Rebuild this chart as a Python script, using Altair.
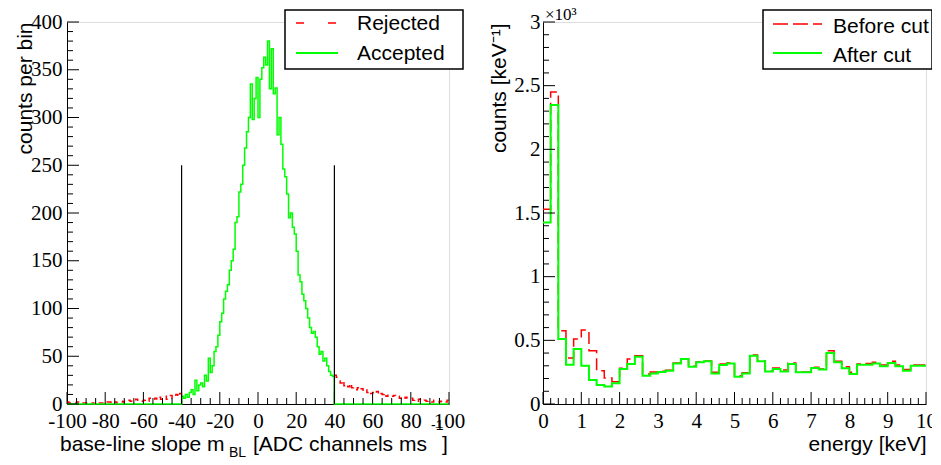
import altair as alt
import pandas as pd
import numpy as np

# ---------------- Left panel: base-line slope (1 ADC ch/ms bins) ----------------
slope_start = -100
slope_bin = 1
# Accepted, bins -40 ... 39
accepted_inner = [8, 6, 10, 7, 12, 15, 10, 25, 14, 20,
                  22, 18, 30, 24, 48, 33, 40, 55, 60, 72,
                  86, 95, 110, 118, 125, 140, 150, 162, 190, 196,
                  222, 230, 250, 268, 285, 300, 335, 298, 320, 342,
                  300, 340, 352, 363, 355, 380, 330, 372, 325, 331,
                  282, 300, 272, 246, 238, 220, 195, 200, 185, 178,
                  160, 135, 128, 115, 108, 100, 90, 80, 74, 76,
                  70, 60, 52, 55, 45, 48, 40, 34, 30, 29]
# Rejected, bins -100 ... -41
rejected_left = [2, 1, 1, 0, 1, 2, 1, 0, 1, 1,
                 1, 2, 1, 1, 0, 1, 2, 1, 1, 2,
                 1, 2, 2, 1, 3, 2, 1, 2, 3, 2,
                 3, 2, 4, 3, 2, 3, 5, 3, 4, 3,
                 4, 5, 3, 6, 4, 5, 6, 4, 7, 5,
                 6, 8, 5, 7, 9, 6, 8, 10, 7, 11]
# Rejected, bins 40 ... 99
rejected_right = [30, 28, 24, 22, 25, 19, 21, 18, 22, 17,
                  18, 15, 17, 14, 16, 13, 15, 12, 14, 11,
                  12, 10, 13, 9, 11, 10, 12, 8, 10, 9,
                  8, 9, 7, 8, 6, 7, 5, 7, 6, 5,
                  6, 4, 5, 3, 5, 4, 3, 4, 3, 4,
                  3, 2, 4, 3, 2, 3, 2, 3, 2, 4]
cut_values = [-40, 40]
cut_top = 250
left_x_ticks = [-100, -80, -60, -40, -20, 0, 20, 40, 60, 80, 100]
left_y_ticks = [0, 50, 100, 150, 200, 250, 300, 350, 400]
left_legend = ["Rejected", "Accepted"]

# ---------------- Right panel: energy spectrum (0.2 keV bins) ----------------
energy_start = 0.0
energy_bin = 0.2
before_cut = [1530, 2450, 576, 361, 510, 581, 419, 262, 204, 175,
              280, 353, 379, 236, 251, 258, 265, 322, 356, 296,
              330, 338, 250, 314, 322, 222, 245, 385, 338, 260,
              283, 268, 322, 252, 252, 288, 275, 419, 335, 293,
              250, 314, 319, 327, 306, 335, 306, 270, 306, 306]
after_cut = [1426, 2349, 510, 309, 432, 301, 188, 149, 138, 162,
             275, 314, 372, 222, 240, 251, 262, 319, 353, 293,
             327, 335, 240, 306, 319, 214, 240, 379, 335, 255,
             275, 255, 314, 250, 250, 283, 270, 400, 327, 280,
             235, 309, 309, 319, 296, 322, 296, 262, 301, 301]
right_x_ticks = [0, 1, 2, 3, 4, 5, 6, 7, 8, 9, 10]
right_y_ticks = [0, 500, 1000, 1500, 2000, 2500, 3000]
right_legend = ["Before cut", "After cut"]

RED = "#ff0000"
GREEN = "#00ff00"
SANS = "Liberation Sans"
SERIF = "Liberation Serif"

LW, LH = 382, 382
RW, RH = 383, 382


def step_df(start, width, values, group="a"):
    xs = [start + i * width for i in range(len(values) + 1)]
    ys = list(values) + [values[-1]]
    return pd.DataFrame({"x": xs, "y": ys, "g": group})


def tick_layers(xs, ys, xa, ya, x_major, x_minor, y_major, y_minor, H):
    out = []
    for vals, L in ((x_major, 12), (x_minor, 6)):
        out.append(alt.Chart(pd.DataFrame({"x": vals})).mark_rule(color="black", strokeWidth=1).encode(
            x=alt.X("x:Q", scale=xs, axis=xa), y=alt.value(H), y2=alt.value(H - L)))
    for vals, L in ((y_major, 12), (y_minor, 6)):
        out.append(alt.Chart(pd.DataFrame({"y": vals})).mark_rule(color="black", strokeWidth=1).encode(
            y=alt.Y("y:Q", scale=ys, axis=ya), x=alt.value(0), x2=alt.value(L)))
    return out


def legend_layers(names, box, red_dash, text_baselines, line_y, line_x, text_x):
    one = pd.DataFrame({"a": [0]})
    layers = [
        alt.Chart(one).mark_rect(fill="white", stroke="black", strokeWidth=1.5).encode(
            x=alt.value(box[0]), x2=alt.value(box[1]), y=alt.value(box[2]), y2=alt.value(box[3])),
        alt.Chart(one).mark_rule(color=RED, strokeWidth=1.5, strokeDash=red_dash).encode(
            x=alt.value(line_x[0]), x2=alt.value(line_x[1]), y=alt.value(line_y[0])),
        alt.Chart(one).mark_rule(color=GREEN, strokeWidth=2).encode(
            x=alt.value(line_x[0]), x2=alt.value(line_x[1]), y=alt.value(line_y[1])),
    ]
    for name, yb in zip(names, text_baselines):
        layers.append(alt.Chart(one).mark_text(text=name, font=SANS, fontSize=21, align="left",
                                               baseline="alphabetic", color="black").encode(
            x=alt.value(text_x), y=alt.value(yb)))
    return layers


one = pd.DataFrame({"a": [0]})


def txt(text, x, y, size=21, font=SANS):
    return alt.Chart(one).mark_text(text=text, font=font, fontSize=size, align="left",
                                    baseline="alphabetic", color="black").encode(
        x=alt.value(x), y=alt.value(y))


# ----- left panel -----
lxs = alt.Scale(domain=[-100, 100], nice=False, zero=False)
lys = alt.Scale(domain=[0, 400], nice=False, zero=False)

n_side = len(rejected_left)
acc_full = [0] * n_side + accepted_inner + [0] * len(rejected_right)

left_x_axis = alt.Axis(values=left_x_ticks, labelExpr="'' + datum.value", labelFont=SERIF,
                       labelFontSize=21, labelColor="black", ticks=False, grid=False, title=None,
                       labelPadding=6, labelFlush=False, labelOverlap=False, domainColor="black")
left_y_axis = alt.Axis(values=left_y_ticks, labelExpr="'' + datum.value", labelFont=SERIF,
                       labelFontSize=21, labelColor="black", ticks=False, grid=False,
                       title="counts per bin", titleFont=SANS, titleFontSize=21, titleFontWeight="normal",
                       titleColor="black", titleAngle=270, titleAlign="right", titleBaseline="alphabetic",
                       titleX=-36, titleY=0, labelPadding=5, labelFlush=False, labelOverlap=False,
                       domainColor="black")

rej_df = pd.concat([
    step_df(slope_start, slope_bin, rejected_left, "lo"),
    step_df(cut_values[1], slope_bin, rejected_right, "hi"),
])
rej_line = alt.Chart(rej_df).mark_line(
    interpolate="step-after", color=RED, strokeWidth=1.5, strokeDash=[5, 6]).encode(
    x=alt.X("x:Q", scale=lxs, axis=left_x_axis), y=alt.Y("y:Q", scale=lys, axis=left_y_axis),
    detail="g:N")
acc_line = alt.Chart(step_df(slope_start, slope_bin, acc_full)).mark_line(
    interpolate="step-after", color=GREEN, strokeWidth=1.5).encode(
    x=alt.X("x:Q", scale=lxs, axis=left_x_axis), y=alt.Y("y:Q", scale=lys, axis=left_y_axis))
cuts = alt.Chart(pd.DataFrame({"x": cut_values, "y": [0, 0], "y1": [cut_top, cut_top]})).mark_rule(
    color="black", strokeWidth=1.2).encode(
    x=alt.X("x:Q", scale=lxs, axis=left_x_axis), y=alt.Y("y:Q", scale=lys, axis=left_y_axis), y2="y1:Q")

lx_minor = [v for v in range(-100, 101, 5) if v not in left_x_ticks]
ly_minor = [v for v in range(0, 401, 10) if v not in left_y_ticks]

left = alt.layer(
    rej_line, acc_line, cuts,
    *tick_layers(lxs, lys, left_x_axis, left_y_axis, left_x_ticks, lx_minor, left_y_ticks, ly_minor, LH),
    txt("base-line slope m", -7, 429),
    txt("BL", 162, 435, 14),
    txt("[ADC channels ms", 186, 429),
    txt("-1", 364, 408, 14),
    txt("]", 375, 429),
    *legend_layers(left_legend, (218, 396, -12, 47), [8, 24], (7.5, 38), (1, 31), (229, 271), 290),
).properties(width=LW, height=LH)

# ----- right panel -----
rxs = alt.Scale(domain=[0, 10], nice=False, zero=False)
rys = alt.Scale(domain=[0, 3000], nice=False, zero=False)

right_x_axis = alt.Axis(values=right_x_ticks, labelExpr="'' + datum.value", labelFont=SERIF,
                        labelFontSize=21, labelColor="black", ticks=False, grid=False,
                        title="energy [keV]", titleFont=SANS, titleFontSize=21, titleFontWeight="normal",
                        titleColor="black", titleX=RW, titleY=46, titleAlign="right",
                        titleBaseline="alphabetic", labelPadding=6, labelFlush=False,
                        labelOverlap=False, domainColor="black")
right_y_axis = alt.Axis(values=right_y_ticks, labelExpr="'' + (datum.value / 1000)", labelFont=SERIF,
                        labelFontSize=21, labelColor="black", ticks=False, grid=False,
                        title="counts [keV⁻¹]", titleFont=SANS, titleFontSize=21, titleFontWeight="normal",
                        titleColor="black", titleAngle=270, titleAlign="right", titleBaseline="alphabetic",
                        titleX=-38, titleY=1, labelPadding=3, labelFlush=False, labelOverlap=False,
                        domainColor="black")

before_line = alt.Chart(step_df(energy_start, energy_bin, before_cut)).mark_line(
    interpolate="step-after", color=RED, strokeWidth=1.5, strokeDash=[12, 5]).encode(
    x=alt.X("x:Q", scale=rxs, axis=right_x_axis), y=alt.Y("y:Q", scale=rys, axis=right_y_axis))
after_line = alt.Chart(step_df(energy_start, energy_bin, after_cut)).mark_line(
    interpolate="step-after", color=GREEN, strokeWidth=2).encode(
    x=alt.X("x:Q", scale=rxs, axis=right_x_axis), y=alt.Y("y:Q", scale=rys, axis=right_y_axis))

rx_minor = [round(v, 1) for v in np.arange(0, 10.01, 0.2) if abs(v - round(v)) > 1e-6]
ry_minor = [v for v in range(0, 3001, 100) if v not in right_y_ticks]

right = alt.layer(
    before_line, after_line,
    *tick_layers(rxs, rys, right_x_axis, right_y_axis, right_x_ticks, rx_minor, right_y_ticks, ry_minor, RH),
    txt("×10³", 2, -2, 17, SERIF),
    *legend_layers(right_legend, (220, 389, -12, 47), [15, 5], (10.5, 39.5), (2, 31), (230, 279), 290),
).properties(width=RW, height=RH)

chart = alt.hconcat(left, right, spacing=94, bounds="flush").properties(
    padding={"left": 5, "top": -3, "right": -5, "bottom": -2}
).configure_view(stroke="black", strokeWidth=1).configure(background="white")

chart.save("out.html", embed_options={"renderer": "svg", "actions": False})
